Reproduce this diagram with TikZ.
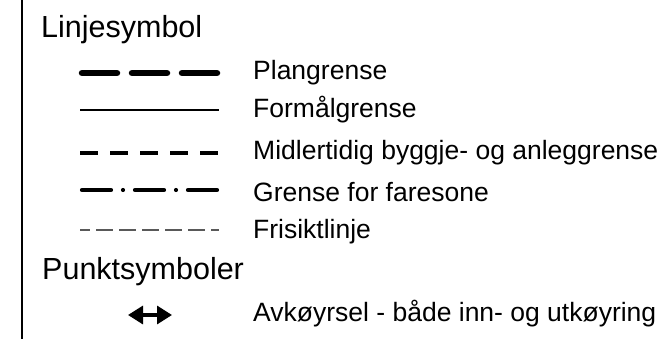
\documentclass[tikz,border=0pt]{standalone}
\usepackage{fontspec}
\setmainfont{Liberation Sans}
\usetikzlibrary{arrows.meta}
\begin{document}
\begin{tikzpicture}[x=1pt,y=-1pt,
  headtext/.style={anchor=base west,inner sep=0pt,font=\fontsize{30.5}{30.5}\selectfont},
  legtext/.style={anchor=base west,inner sep=0pt,font=\fontsize{26.5}{26.5}\selectfont},
  thickdash/.style={line width=6.5,line cap=round,dash pattern=on 35 off 15},
  thinsolid/.style={line width=1.5},
  middash/.style={line width=3.2,dash pattern=on 18 off 12},
  dashdot/.style={line width=4.2,line cap=round,dash pattern=on 29 off 12 on 0 off 12},
  finedash/.style={line width=1.3,black!65,dash pattern=on 17 off 6,dash phase=7},
  bothway/.style={line width=3.2,{Triangle[length=15pt,width=18pt]}-{Triangle[length=15pt,width=18pt]}}]
\useasboundingbox (0,0) rectangle (669,339);
\coordinate (rt) at (22,0);
\coordinate (rb) at (22,339);
\draw[thinsolid] (rt) -- (rb);

\node[headtext] (h1) at (41,37.5) {Linjesymbol};
\node[headtext] (h2) at (42,279.5) {Punktsymboler};

\node[legtext] (t1) at (253,80) {Plangrense};
\node[legtext] (t2) at (253,117.3) {Formålgrense};
\node[legtext] (t3) at (253,159.5) {Midlertidig byggje- og anleggrense};
\node[legtext] (t4) at (253,201) {Grense for faresone};
\node[legtext] (t5) at (253,238.3) {Frisiktlinje};
\node[legtext] (t6) at (253,321.7) {Avkøyrsel - både inn- og utkøyring};

\draw[thickdash] (82,73) -- (218,73);
\draw[thinsolid] (80,110) -- (219,110);
\draw[middash] (80,153) -- (220,153);
\draw[dashdot] (82,190) -- (217,190);
\draw[finedash] (80,230) -- (219,230);
\coordinate (al) at (128,315);
\coordinate (ar) at (172,315);
\draw[bothway] (al) -- (ar);
\end{tikzpicture}
\end{document}
